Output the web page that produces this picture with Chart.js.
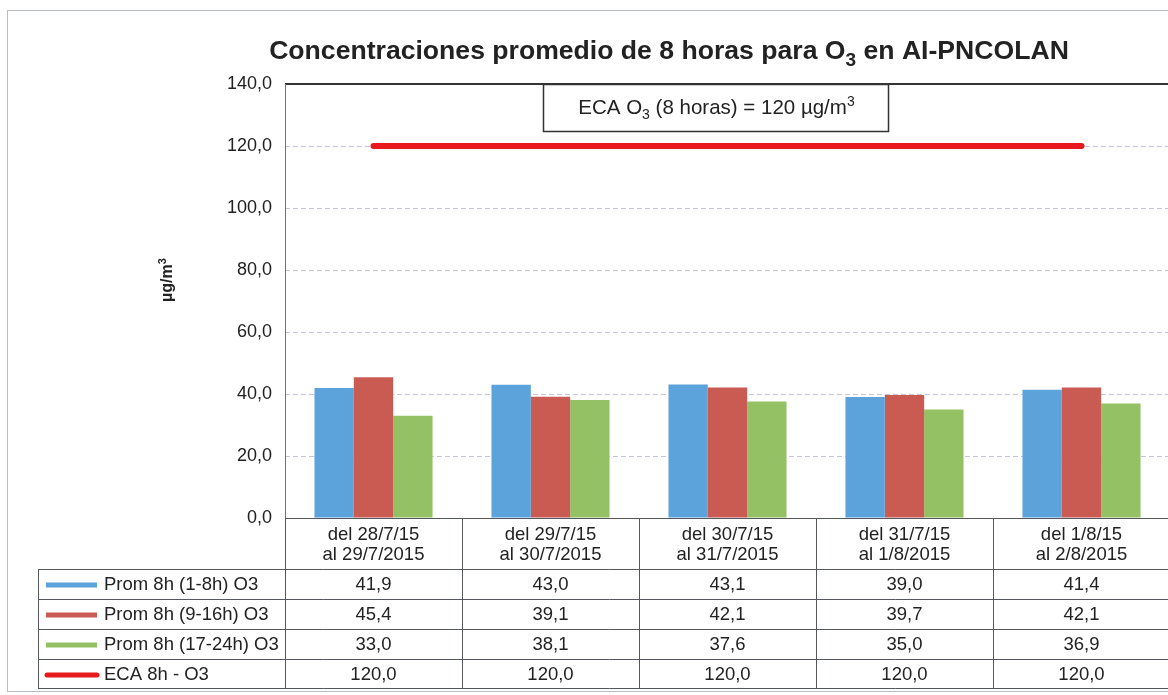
<!DOCTYPE html>
<html>
<head>
<meta charset="utf-8">
<script src="https://cdn.jsdelivr.net/npm/chart.js@4.4.1/dist/chart.umd.min.js"></script>
<style>
  html, body { margin: 0; padding: 0; background: #fff; overflow: hidden; }
  #wrap { position: absolute; left: 0; top: 0; width: 1180px; height: 695px; }
</style>
</head>
<body>
<div id="wrap"><canvas id="chart" width="1180" height="695"></canvas></div>
<script>
const FONT = '"Liberation Sans", Arial, sans-serif';

const categories = [
  ['del 28/7/15', 'al 29/7/2015'],
  ['del 29/7/15', 'al 30/7/2015'],
  ['del 30/7/15', 'al 31/7/2015'],
  ['del 31/7/15', 'al 1/8/2015'],
  ['del 1/8/15', 'al 2/8/2015'],
];
const prom1to8 = [41.9, 43.0, 43.1, 39.0, 41.4];
const prom9to16 = [45.4, 39.1, 42.1, 39.7, 42.1];
const prom17to24 = [33.0, 38.1, 37.6, 35.0, 36.9];
const eca8h = [120.0, 120.0, 120.0, 120.0, 120.0];
const yTicks = [0, 20, 40, 60, 80, 100, 120, 140];

const seriesNames = ['Prom 8h (1-8h) O3', 'Prom 8h (9-16h) O3', 'Prom 8h (17-24h) O3', 'ECA 8h - O3'];
const seriesColors = ['#5ba3da', '#c95b53', '#93c163', '#e8191c'];

const fmt = v => v.toFixed(1).replace('.', ',');

// draws text made of pieces, some of them sub/superscript
const drawRich = (ctx, parts, x, y, size, weight, align) => {
  const small = Math.round(size * 0.7);
  const widths = parts.map(p => {
    ctx.font = `${weight} ${p.sub || p.sup ? small : size}px ${FONT}`;
    return ctx.measureText(p.t).width;
  });
  const total = widths.reduce((a, b) => a + b, 0);
  let cx = align === 'center' ? x - total / 2 : x;
  ctx.textAlign = 'left';
  ctx.textBaseline = 'alphabetic';
  parts.forEach((p, i) => {
    ctx.font = `${weight} ${p.sub || p.sup ? small : size}px ${FONT}`;
    let dy = 0;
    if (p.sub) dy = size * 0.25;
    if (p.sup) dy = -size * 0.38;
    ctx.fillText(p.t, cx, y + dy);
    cx += widths[i];
  });
};

const decorPlugin = {
  id: 'decor',
  afterDraw(chart) {
    const { ctx, chartArea: area, scales: { x, y } } = chart;
    ctx.save();
    ctx.fillStyle = '#222';

    // outer chart border
    ctx.strokeStyle = '#b9bccb';
    ctx.lineWidth = 1;
    ctx.strokeRect(7.5, 10.5, 1200, 681);

    // title
    drawRich(ctx, [
      { t: 'Concentraciones promedio de 8 horas para O' },
      { t: '3', sub: true },
      { t: ' en AI-PNCOLAN' },
    ], 669, 59, 26.6, 'bold', 'center');

    // y axis title
    ctx.save();
    ctx.translate(172, 280);
    ctx.rotate(-Math.PI / 2);
    drawRich(ctx, [{ t: 'µg/m' }, { t: '3', sup: true }], 0, 0, 16, 'bold', 'center');
    ctx.restore();

    // plot top border and left axis
    ctx.strokeStyle = '#333';
    ctx.lineWidth = 2;
    ctx.beginPath();
    ctx.moveTo(area.left, area.top);
    ctx.lineTo(area.right, area.top);
    ctx.stroke();
    ctx.strokeStyle = '#6a7090';
    ctx.lineWidth = 1;
    ctx.beginPath();
    ctx.moveTo(area.left + 0.5, area.top);
    ctx.lineTo(area.left + 0.5, area.bottom);
    ctx.stroke();

    // annotation box
    const bx = 543, by = area.top, bw = 345, bh = 47;
    ctx.fillStyle = '#fff';
    ctx.fillRect(bx, by, bw, bh);
    ctx.strokeStyle = '#333';
    ctx.lineWidth = 1.5;
    ctx.strokeRect(bx + 0.5, by + 0.5, bw, bh);
    ctx.fillStyle = '#222';
    drawRich(ctx, [
      { t: 'ECA O' }, { t: '3', sub: true }, { t: ' (8 horas) = 120 µg/m' }, { t: '3', sup: true },
    ], bx + bw / 2 + 1, by + 30, 20.5, 'normal', 'center');

    // data table
    const n = categories.length;
    const colW = (area.right - area.left) / n;
    const top = area.bottom;
    const headBottom = top + 51;
    const rowH = 30;
    const rowsBottom = headBottom + rowH * 4 - 1;
    const legLeft = 38;

    ctx.strokeStyle = '#55575f';
    ctx.lineWidth = 1;
    ctx.beginPath();
    ctx.moveTo(area.left, top + 0.5);
    ctx.lineTo(area.right + 20, top + 0.5);
    for (let r = 0; r <= 4; r++) {
      const yy = Math.round(r === 4 ? rowsBottom : headBottom + r * rowH) + 0.5;
      ctx.moveTo(legLeft, yy);
      ctx.lineTo(area.right + 20, yy);
    }
    for (let i = 0; i <= n; i++) {
      const xx = Math.round(x.getPixelForValue(i) - colW / 2) + 0.5;
      ctx.moveTo(xx, top);
      ctx.lineTo(xx, rowsBottom);
    }
    ctx.moveTo(legLeft + 0.5, headBottom);
    ctx.lineTo(legLeft + 0.5, rowsBottom);
    ctx.stroke();

    ctx.font = `18.5px ${FONT}`;
    ctx.textAlign = 'center';
    ctx.textBaseline = 'middle';
    ctx.fillStyle = '#222';
    categories.forEach((lines, i) => {
      const cx = x.getPixelForValue(i);
      ctx.fillText(lines[0], cx, top + 17);
      ctx.fillText(lines[1], cx, top + 37);
    });

    const rows = [prom1to8, prom9to16, prom17to24, eca8h];
    rows.forEach((vals, r) => {
      const cy = headBottom + r * rowH + rowH / 2 + 1;
      vals.forEach((v, i) => {
        ctx.textAlign = 'center';
        ctx.fillText(fmt(v), x.getPixelForValue(i), cy);
      });
      // legend key
      ctx.strokeStyle = seriesColors[r];
      ctx.lineCap = r === 3 ? 'round' : 'butt';
      ctx.lineWidth = 5;
      ctx.beginPath();
      ctx.moveTo(r === 3 ? 47 : 46, cy);
      ctx.lineTo(97, cy);
      ctx.stroke();
      ctx.textAlign = 'left';
      ctx.fillText(seriesNames[r], 104, cy);
    });

    ctx.restore();
  },
};

const barDataset = (label, data, color) => ({
  type: 'bar',
  label,
  data,
  backgroundColor: color,
  borderWidth: 0,
  categoryPercentage: 0.667,
  barPercentage: 1,
  order: 2,
});

new Chart(document.getElementById('chart'), {
  data: {
    labels: categories,
    datasets: [
      barDataset(seriesNames[0], prom1to8, seriesColors[0]),
      barDataset(seriesNames[1], prom9to16, seriesColors[1]),
      barDataset(seriesNames[2], prom17to24, seriesColors[2]),
      {
        type: 'line',
        label: seriesNames[3],
        data: eca8h,
        borderColor: seriesColors[3],
        borderWidth: 6,
        borderCapStyle: 'round',
        pointRadius: 0,
        fill: false,
        order: 1,
      },
    ],
  },
  options: {
    responsive: false,
    animation: false,
    devicePixelRatio: 1,
    layout: { padding: { left: 0, top: 84, right: 10, bottom: 7 } },
    plugins: {
      legend: { display: false },
      title: { display: false },
      tooltip: { enabled: false },
    },
    scales: {
      x: {
        offset: true,
        grid: { display: false },
        border: { display: false },
        ticks: { display: false },
        afterFit: scale => { scale.height = 170; },
      },
      y: {
        min: 0,
        max: 140,
        afterBuildTicks: scale => { scale.ticks = yTicks.map(value => ({ value })); },
        ticks: {
          font: { family: FONT, size: 18 },
          color: '#222',
          padding: 13,
          callback: v => fmt(v),
        },
        grid: { color: '#c3c6da', lineWidth: 1, drawTicks: false },
        border: { display: false, dash: [5, 3] },
        afterFit: scale => { scale.width = 285; },
      },
    },
  },
  plugins: [decorPlugin],
});
</script>
</body>
</html>
